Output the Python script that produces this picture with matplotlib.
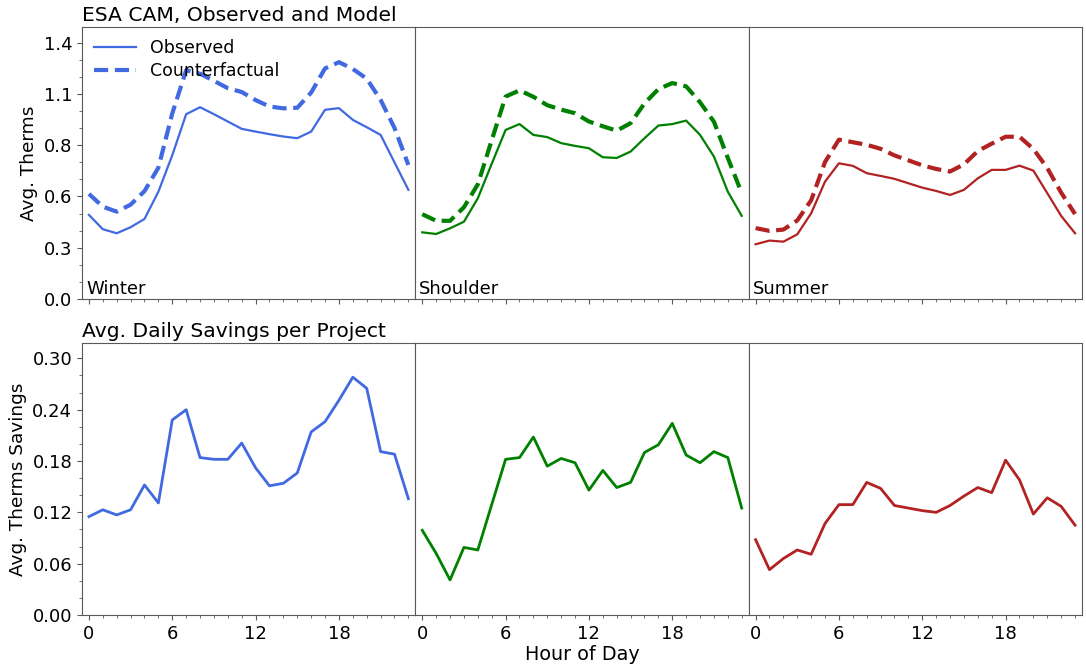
import numpy as np
import matplotlib.pyplot as plt
from matplotlib.ticker import MultipleLocator, AutoMinorLocator, FormatStrFormatter

# hourly profiles
hours = list(range(24))
seasons = ["Winter", "Shoulder", "Summer"]
colors = ["royalblue", "green", "firebrick"]

winter_obs = [0.459, 0.381, 0.359, 0.392, 0.437, 0.586, 0.785, 1.009, 1.047, 1.009, 0.969, 0.929,
              0.914, 0.900, 0.887, 0.878, 0.914, 1.033, 1.042, 0.978, 0.938, 0.896, 0.746, 0.596]
winter_cf = [0.574, 0.504, 0.477, 0.515, 0.589, 0.717, 1.013, 1.249, 1.230, 1.191, 1.151, 1.130,
             1.086, 1.051, 1.041, 1.044, 1.127, 1.259, 1.293, 1.256, 1.203, 1.087, 0.934, 0.732]
shoulder_obs = [0.364, 0.355, 0.386, 0.422, 0.550, 0.738, 0.923, 0.955, 0.896, 0.884, 0.851, 0.836,
                0.823, 0.774, 0.770, 0.805, 0.878, 0.947, 0.955, 0.974, 0.896, 0.778, 0.586, 0.454]
shoulder_cf = [0.463, 0.427, 0.427, 0.501, 0.626, 0.867, 1.105, 1.139, 1.104, 1.058, 1.034, 1.014,
               0.969, 0.943, 0.919, 0.960, 1.068, 1.146, 1.179, 1.161, 1.074, 0.968, 0.770, 0.579]
summer_obs = [0.299, 0.319, 0.313, 0.353, 0.468, 0.641, 0.741, 0.727, 0.687, 0.672, 0.656, 0.632,
              0.608, 0.590, 0.568, 0.596, 0.659, 0.705, 0.705, 0.728, 0.701, 0.578, 0.454, 0.359]
summer_cf = [0.387, 0.372, 0.379, 0.429, 0.539, 0.748, 0.870, 0.856, 0.842, 0.820, 0.784, 0.757,
             0.730, 0.710, 0.696, 0.735, 0.808, 0.848, 0.886, 0.886, 0.819, 0.715, 0.581, 0.464]

winter_sav = [0.115, 0.123, 0.117, 0.123, 0.152, 0.131, 0.228, 0.240, 0.184, 0.182, 0.182, 0.201,
              0.172, 0.151, 0.154, 0.166, 0.214, 0.226, 0.251, 0.278, 0.265, 0.191, 0.188, 0.136]
shoulder_sav = [0.099, 0.072, 0.041, 0.079, 0.076, 0.129, 0.182, 0.184, 0.208, 0.174, 0.183, 0.178,
                0.146, 0.169, 0.149, 0.155, 0.190, 0.199, 0.224, 0.187, 0.178, 0.191, 0.184, 0.125]
summer_sav = [0.088, 0.053, 0.066, 0.076, 0.071, 0.107, 0.129, 0.129, 0.155, 0.148, 0.128, 0.125,
              0.122, 0.120, 0.128, 0.139, 0.149, 0.143, 0.181, 0.158, 0.118, 0.137, 0.127, 0.105]

obs = [winter_obs, shoulder_obs, summer_obs]
cf = [winter_cf, shoulder_cf, summer_cf]
sav = [winter_sav, shoulder_sav, summer_sav]

top_ticks = np.linspace(0, 1.4, 6)
bot_ticks = np.linspace(0, 0.3, 6)

fig, axes = plt.subplots(2, 3, figsize=(10.86, 6.70), dpi=100, sharex=True, sharey='row')
fig.subplots_adjust(left=0.0755, right=0.9963, top=0.9597, bottom=0.0821, wspace=0, hspace=0.1616)

edge = '0.35'
for r in range(2):
    for c in range(3):
        ax = axes[r, c]
        for s in ax.spines.values():
            s.set_color(edge)
        ax.tick_params(which='both', colors=edge, labelcolor='black', labelsize=13)
        ax.xaxis.set_major_locator(MultipleLocator(6))
        ax.xaxis.set_minor_locator(MultipleLocator(1))
        ax.set_xlim(-0.5, 23.5)
        if c > 0:
            ax.tick_params(axis='y', which='both', left=False, labelleft=False)

for c in range(3):
    ax = axes[0, c]
    ax.plot(hours, obs[c], color=colors[c], lw=1.6, label='Observed')
    ax.plot(hours, cf[c], color=colors[c], lw=3, ls=(0, (3.4, 1.6)), label='Counterfactual')
    ax.text(0.012, 0.02, seasons[c], transform=ax.transAxes, fontsize=13, va='baseline', ha='left')
    axes[1, c].plot(hours, sav[c], color=colors[c], lw=2)

axes[0, 0].set_ylim(0, 1.485)
axes[0, 0].set_yticks(top_ticks)
axes[0, 0].yaxis.set_major_formatter(FormatStrFormatter('%.1f'))
axes[0, 0].yaxis.set_minor_locator(AutoMinorLocator(3))
axes[1, 0].set_ylim(0, 0.318)
axes[1, 0].set_yticks(bot_ticks)
axes[1, 0].yaxis.set_major_formatter(FormatStrFormatter('%.2f'))
axes[1, 0].yaxis.set_minor_locator(AutoMinorLocator(3))

axes[0, 0].set_ylabel('Avg. Therms', fontsize=13.3)
axes[1, 0].set_ylabel('Avg. Therms Savings', fontsize=13.3)
axes[1, 1].set_xlabel('Hour of Day', fontsize=13.8, labelpad=2)
axes[0, 0].set_title('ESA CAM, Observed and Model', loc='left', fontsize=14.6, pad=4)
axes[1, 0].set_title('Avg. Daily Savings per Project', loc='left', fontsize=14.6, pad=4)
axes[0, 0].legend(loc='upper left', frameon=False, fontsize=12.5, borderaxespad=0.3,
                  handlelength=2.4, labelspacing=0.3)

fig.savefig('out.png', dpi=100)
